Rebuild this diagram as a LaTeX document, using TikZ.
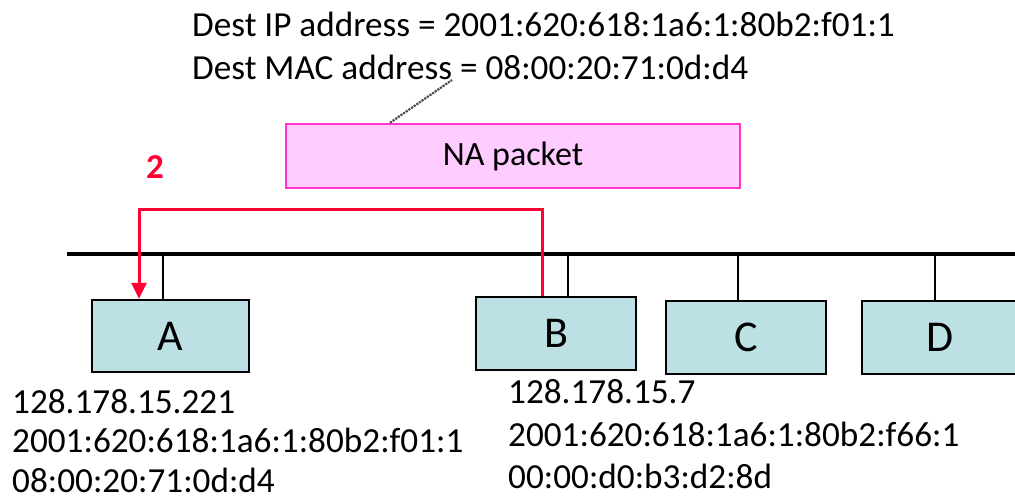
\documentclass[tikz,border=0pt]{standalone}
\usepackage{fontspec}
\setmainfont{Carlito}
\usetikzlibrary{arrows.meta}
\definecolor{hostfill}{HTML}{BCE0E3}
\definecolor{pktfill}{HTML}{FFCCFF}
\definecolor{pktdraw}{HTML}{FF33CC}
\definecolor{flow}{HTML}{FF0033}
\tikzset{
  host/.style={draw=black, line width=2.5pt, fill=hostfill, inner sep=0pt,
    font=\fontsize{44}{48}\selectfont},
  packet/.style={draw=pktdraw, line width=2.5pt, fill=pktfill, inner sep=0pt,
    minimum width=454pt, minimum height=64pt, font=\fontsize{34}{38}\selectfont},
  info/.style={anchor=base west, inner sep=0pt, font=\fontsize{35.2}{38}\selectfont},
  bus/.style={line width=4.5pt},
  tap/.style={line width=2pt},
  flowline/.style={draw=flow, line width=3pt, -{Triangle[width=15pt,length=16pt]}},
}
\begin{document}
\begin{tikzpicture}[x=1pt, y=-1pt]
\useasboundingbox (0,0) rectangle (1015,501);

% header addresses
\node[info] (dip) at (192,36) {Dest IP address = 2001:620:618:1a6:1:80b2:f01:1};
\node[info] (dmac) at (192,79) {Dest MAC address = 08:00:20:71:0d:d4};

% packet
\node[packet] (pkt) at (513,156) {NA packet};
\draw[densely dotted, line width=2.2pt, black!70] (pkt.north -| 390,0) -- (452,80);

% step number
\node[text=flow, font=\fontsize{35}{38}\selectfont\bfseries] (step2) at (155,167) {2};

% shared link
\coordinate (busL) at (67,254);
\coordinate (busR) at (1015,254);
\draw[bus] (busL) -- (busR);

% hosts
\node[host, minimum width=157pt, minimum height=72pt] (A) at (170.5,336) {A};
\node[host, minimum width=160pt, minimum height=73pt] (B) at (556,333.5) {B};
\node[host, minimum width=160pt, minimum height=73pt] (C) at (746,337.5) {C};
\node[host, minimum width=156pt, minimum height=73pt] (D) at (940,337.5) {D};

% taps onto the link
\draw[tap] (A.north -| 163,0) -- (163,254);
\draw[tap] (B.north -| 568,0) -- (568,254);
\draw[tap] (C.north -| 738,0) -- (738,254);
\draw[tap] (D.north -| 935,0) -- (935,254);

% NA reply from B to A
\draw[flowline] (B.north -| 542,0) |- (139,209) -- (A.north -| 139,0);

% host addresses
\node[info] (a1) at (12,413) {128.178.15.221};
\node[info] (a2) at (12,452) {2001:620:618:1a6:1:80b2:f01:1};
\node[info] (a3) at (12,492) {08:00:20:71:0d:d4};
\node[info] (b1) at (508,403) {128.178.15.7};
\node[info] (b2) at (508,446) {2001:620:618:1a6:1:80b2:f66:1};
\node[info] (b3) at (508,488) {00:00:d0:b3:d2:8d};
\end{tikzpicture}
\end{document}
